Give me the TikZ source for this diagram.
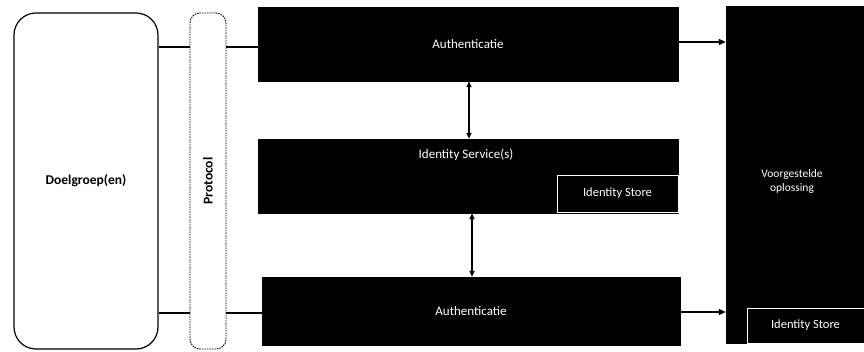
\documentclass[tikz,border=0pt]{standalone}
\usepackage{fontspec}
\setmainfont{Carlito}
\usetikzlibrary{arrows.meta}
\begin{document}
\begin{tikzpicture}[x=1pt,y=-1pt,
  blackbox/.style={draw=black,fill=black,text=white,inner sep=0pt,font=\fontsize{13}{15}\selectfont},
  storebox/.style={draw=white,line width=0.8pt,fill=black,text=white,inner sep=0pt,font=\fontsize{12.5}{15}\selectfont},
  conn/.style={line width=1.3pt},
  arr/.style={line width=1.3pt,-{Triangle[length=7pt,width=6pt]}},
  darr/.style={line width=1.6pt,{Triangle[length=6pt,width=5pt]}-{Triangle[length=6pt,width=5pt]}}
]
\useasboundingbox (0,0) rectangle (864,352);
\fill[white] (0,0) rectangle (864,352);
% left group
\node[draw=black,line width=1.2pt,rounded corners=22pt,minimum width=144pt,minimum height=336pt,inner sep=0pt,font=\fontsize{13.5}{15}\selectfont\bfseries] (doel) at (86,181) {Doelgroep(en)};
\node[draw=black,line width=0.9pt,dash pattern=on 1.5pt off 1pt,rounded corners=10pt,minimum width=36pt,minimum height=336pt,inner sep=0pt] (proto) at (208,181) {};
\node[rotate=90,font=\fontsize{13.5}{15}\selectfont\bfseries] (protolbl) at (proto.center) {Protocol};
% middle boxes
\node[blackbox,minimum width=420pt,minimum height=74pt] (auth1) at (468,44) {Authenticatie};
\node[blackbox,minimum width=420pt,minimum height=74pt] (ids) at (468,176) {};
\node[text=white,font=\fontsize{13}{15}\selectfont,inner sep=0pt] (idslbl) at (466,155) {Identity Service(s)};
\node[storebox,minimum width=121pt,minimum height=37pt] (store1) at (617.5,193.5) {Identity Store};
\node[blackbox,minimum width=418pt,minimum height=68pt] (auth2) at (471,311) {Authenticatie};
% right box
\node[blackbox,minimum width=138pt,minimum height=337pt] (sol) at (795,174.5) {};
\node[text=white,align=center,inner sep=0pt,font=\fontsize{11.5}{14}\selectfont] (sollbl) at (792,181) {Voorgestelde\\oplossing};
\node[storebox,minimum width=117pt,minimum height=35pt] (store2) at (805.5,325.5) {Identity Store};
% connectors
\coordinate (ya) at (0,47);
\coordinate (yb) at (0,313);
\coordinate (yc) at (0,42);
\coordinate (yd) at (0,312);
\draw[conn] (doel.east |- ya) -- (proto.west |- ya);
\draw[conn] (proto.east |- ya) -- (auth1.west |- ya);
\draw[conn] (doel.east |- yb) -- (proto.west |- yb);
\draw[conn] (proto.east |- yb) -- (auth2.west |- yb);
\draw[arr] (auth1.east |- yc) -- (sol.west |- yc);
\draw[arr] (auth2.east |- yd) -- (sol.west |- yd);
\coordinate (xa) at (469,0);
\coordinate (xb) at (472,0);
\draw[darr] (auth1.south -| xa) -- (ids.north -| xa);
\draw[darr] (ids.south -| xb) -- (auth2.north -| xb);
\end{tikzpicture}
\end{document}
